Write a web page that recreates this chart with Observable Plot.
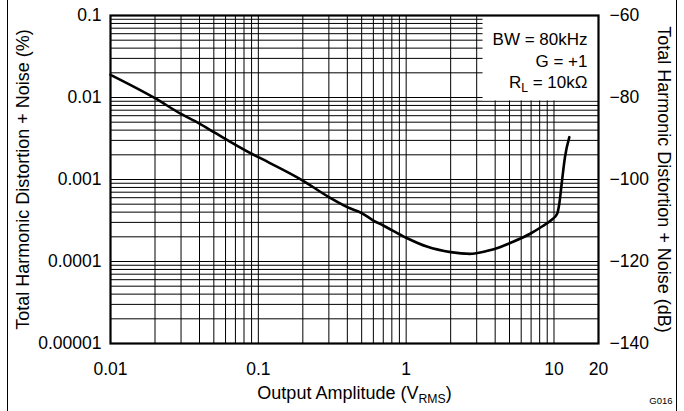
<!DOCTYPE html>
<html><head><meta charset="utf-8">
<script src="https://cdn.jsdelivr.net/npm/d3@7"></script>
<script src="https://cdn.jsdelivr.net/npm/@observablehq/plot@0.6"></script>
<style>
body{margin:0;background:#fff;}
#wrap{position:relative;width:684px;height:411px;overflow:hidden;}
#border{position:absolute;left:7px;top:0;width:668px;height:411px;border-left:1px solid #000;border-right:1px solid #000;pointer-events:none;box-sizing:content-box;}
</style></head><body>
<div id="wrap"><div id="border"></div></div>
<script>
// Output amplitude (V RMS)
const amplitude = [0.01, 0.02, 0.03, 0.04, 0.05, 0.09, 0.1, 0.2, 0.3, 0.4, 0.5, 0.6, 0.7, 1.0, 1.38, 2.0, 2.7, 3.5, 4.3, 5.0, 6.9, 8.3, 9.65, 10.5, 10.86, 11.27, 11.86, 12.7];
// THD+N (%)
const thdn = [0.0189, 0.0098, 0.0063, 0.0048, 0.00378, 0.00206, 0.00187, 0.00097, 0.00061, 0.00046, 0.00039, 0.000316, 0.000275, 0.000195, 0.000152, 0.00013, 0.000124, 0.000134, 0.000149, 0.000167, 0.000218, 0.000267, 0.000323, 0.000382, 0.000506, 0.000887, 0.00187, 0.00328];

const xTicks = [0.01, 0.1, 1, 10, 20];
const xTickLabels = ["0.01", "0.1", "1", "10", "20"];
const yTicks = [0.00001, 0.0001, 0.001, 0.01, 0.1];
const yTickLabels = ["0.00001", "0.0001", "0.001", "0.01", "0.1"];
const dbTicks = [-60, -80, -100, -120, -140];
const annotations = ["BW = 80kHz", "G = +1", "R_L = 10kΩ"];
const xTitle = "Output Amplitude (V_RMS)";
const yTitle = "Total Harmonic Distortion + Noise (%)";
const y2Title = "Total Harmonic Distortion + Noise (dB)";
const figId = "G016";

const data = amplitude.map((v, i) => ({v, t: thdn[i]}));
const xDomain = [0.01, 20];
const yDomain = [0.00001, 0.1];
const xGrid = d3.scaleLog().domain(xDomain).ticks();
const yGrid = d3.scaleLog().domain(yDomain).ticks();
const dbPct = dbTicks.map(db => 100 * Math.pow(10, db / 20));

const W = 684, H = 411, mL = 110, mR = 86, mT = 15, mB = 68;

const svg = Plot.plot({
  width: W, height: H,
  marginLeft: mL, marginRight: mR, marginTop: mT, marginBottom: mB,
  style: {fontFamily: "'Liberation Sans', Arial, sans-serif", fontSize: "17.5px", color: "#000", background: "#fff"},
  x: {type: "log", domain: xDomain},
  y: {type: "log", domain: yDomain},
  marks: [
    Plot.ruleX(xGrid, {stroke: "#000", strokeWidth: 1}),
    Plot.ruleY(yGrid, {stroke: "#000", strokeWidth: 1}),
    Plot.line(data, {x: "v", y: "t", stroke: "#000", strokeWidth: 2.6, curve: "monotone-x"}),
    Plot.axisX({ticks: xTicks, tickSize: 0, tickPadding: 19, label: null,
      tickFormat: d => xTickLabels[xTicks.findIndex(t => Math.abs(t - d) < 1e-9)]}),
    Plot.axisY({anchor: "left", ticks: yTicks, tickSize: 0, tickPadding: 9, label: null,
      tickFormat: d => yTickLabels[yTicks.findIndex(t => Math.abs(t / d - 1) < 1e-6)]}),
    Plot.axisY({anchor: "right", ticks: dbPct, tickSize: 0, tickPadding: 11, label: null,
      tickFormat: d => { const i = dbPct.findIndex(t => Math.abs(t / d - 1) < 1e-6); return "\u2212" + Math.abs(dbTicks[i]); }}),
    Plot.text([annotations[0]], {text: d => d, frameAnchor: "top-right", dx: -11, dy: 17.6, textAnchor: "end", fontSize: 17}),
    Plot.text([annotations[1]], {text: d => d, frameAnchor: "top-right", dx: -11, dy: 39, textAnchor: "end", fontSize: 17}),
    Plot.text([annotations[2]], {text: d => d, frameAnchor: "top-right", dx: -11, dy: 60.6, textAnchor: "end", fontSize: 17}),
    Plot.frame({stroke: "#000", strokeWidth: 2.2}),
    Plot.text([yTitle], {text: d => d, frameAnchor: "left", dx: -87, rotate: -90, textAnchor: "middle", fontSize: 18}),
    Plot.text([y2Title], {text: d => d, frameAnchor: "right", dx: 65, rotate: 90, textAnchor: "middle", fontSize: 18}),
    Plot.text([xTitle], {text: d => d, frameAnchor: "bottom", dy: 55.5, textAnchor: "middle", fontSize: 18}),
    Plot.text([figId], {text: d => d, frameAnchor: "bottom-right", dx: 74, dy: 60.7, textAnchor: "end", fontSize: 9.5})
  ]
});

// subscripts
d3.select(svg).selectAll("text").each(function() {
  const el = this;
  if (el.querySelector("tspan")) return;
  const s = el.textContent;
  const m = s.match(/^(.*?)_([A-Za-z]+)(.*)$/);
  if (!m) return;
  const fs = parseFloat(getComputedStyle(el).fontSize) || 17;
  el.textContent = "";
  const sel = d3.select(el);
  sel.append("tspan").text(m[1]);
  sel.append("tspan").attr("font-size", (fs * 0.72) + "px").attr("dy", fs * 0.25).text(m[2]);
  sel.append("tspan").attr("dy", -fs * 0.25).text(m[3]);
});

document.getElementById("wrap").prepend(svg);

// white box behind annotations
const annTexts = Array.from(svg.querySelectorAll("text")).filter(t => annotations.map(a => a.replace("_", "")).includes(t.textContent));
if (annTexts.length) {
  let x0 = Infinity, y1 = -Infinity;
  annTexts.forEach(t => { const b = t.getBBox(); const ctm = t.getCTM(); const sx = b.x + (ctm ? ctm.e : 0); const sy = b.y + b.height + (ctm ? ctm.f : 0); x0 = Math.min(x0, sx); y1 = Math.max(y1, sy); });
  const firstG = annTexts[0].parentNode;
  const rect = document.createElementNS("http://www.w3.org/2000/svg", "rect");
  rect.setAttribute("x", x0 - 10);
  rect.setAttribute("y", mT);
  rect.setAttribute("width", (W - mR) - (x0 - 10));
  rect.setAttribute("height", y1 + 5 - mT);
  rect.setAttribute("fill", "#fff");
  firstG.parentNode.insertBefore(rect, firstG);
}
</script>
</body></html>
